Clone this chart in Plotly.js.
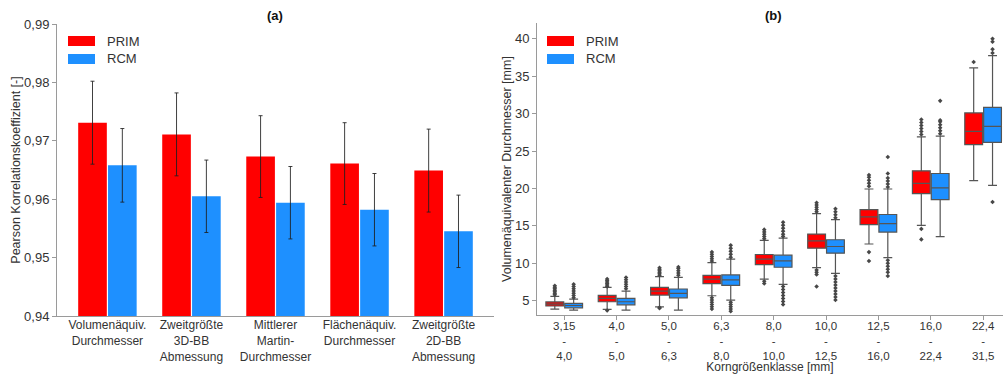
<!DOCTYPE html>
<html>
<head>
<meta charset="utf-8">
<script src="https://cdn.plot.ly/plotly-3.0.1.min.js"></script>
<style>html,body{margin:0;padding:0;background:#fff;}#chart{width:1005px;height:374px;}</style>
</head>
<body>
<div id="chart"></div>
<script>
// ---- Panel (a) data ----
const features = ["Volumenäquiv.<br>Durchmesser", "Zweitgrößte<br>3D-BB<br>Abmessung", "Mittlerer<br>Martin-<br>Durchmesser", "Flächenäquiv.<br>Durchmesser", "Zweitgrößte<br>2D-BB<br>Abmessung"];
const primCorr = [0.9731, 0.9711, 0.9673, 0.9661, 0.9649];
const primErr  = [0.0071, 0.0071, 0.0070, 0.0070, 0.0071];
const rcmCorr  = [0.9658, 0.9605, 0.9594, 0.9582, 0.9545];
const rcmErr   = [0.0063, 0.0062, 0.0062, 0.0062, 0.0062];

// ---- Panel (b) data ----
const classLow  = ["3,15", "4,0", "5,0", "6,3", "8,0", "10,0", "12,5", "16,0", "22,4"];
const classHigh = ["4,0", "5,0", "6,3", "8,0", "10,0", "12,5", "16,0", "22,4", "31,5"];

const primQ1     = [4.30, 4.87, 5.76, 7.28, 9.84, 12.03, 15.16, 19.30, 25.86];
const primMedian = [4.55, 5.31, 6.30, 7.90, 10.55, 13.00, 16.20, 20.68, 27.63];
const primQ3     = [4.85, 5.72, 6.79, 8.40, 11.18, 13.91, 17.17, 22.36, 30.09];
const primLow    = [3.88, 3.84, 4.19, 5.67, 7.90, 9.43, 12.58, 15.07, 21.04];
const primHigh   = [5.60, 6.79, 8.22, 10.10, 13.06, 16.64, 19.93, 26.88, 36.10];
const primOut = [
  [5.8, 6.0, 6.2, 6.4, 6.6, 6.8, 7.0],
  [6.9, 7.1, 7.3, 7.5, 7.7, 7.9, 3.7],
  [8.4, 8.6, 8.8, 9.0, 9.2, 9.4, 4.0, 4.1],
  [10.3, 10.6, 10.9, 11.2, 11.5, 5.4, 5.1, 4.8, 4.5, 4.2, 3.9],
  [13.3, 13.6, 13.9, 14.2, 14.5, 7.6, 7.3],
  [16.9, 17.2, 17.5, 17.8, 18.1, 9.1, 8.8, 8.5, 6.9],
  [20.3, 20.7, 21.1, 21.5, 21.8, 11.5, 10.3],
  [27.2, 27.6, 28.0, 28.4, 28.8, 29.2, 14.6, 13.2],
  [36.9]
];

const rcmQ1     = [4.06, 4.46, 5.40, 7.06, 9.48, 11.36, 14.18, 18.50, 26.16];
const rcmMedian = [4.37, 4.87, 5.99, 7.78, 10.33, 12.25, 15.30, 20.08, 28.30];
const rcmQ3     = [4.64, 5.31, 6.57, 8.45, 11.09, 13.15, 16.52, 22.00, 30.84];
const rcmLow    = [3.75, 3.75, 3.75, 5.09, 7.20, 8.67, 10.75, 13.56, 20.41];
const rcmHigh   = [5.22, 6.30, 8.13, 10.55, 13.37, 15.84, 19.93, 27.00, 37.75];
const rcmOut = [
  [5.4, 5.7, 6.0, 6.3, 6.6, 6.9, 7.2],
  [6.6, 6.9, 7.2, 7.5, 7.8, 8.1],
  [8.4, 8.7, 9.0, 9.3, 9.5],
  [10.8, 11.2, 11.6, 12.0, 12.4, 4.8, 4.5, 4.2, 3.9, 3.6],
  [13.6, 13.9, 14.3, 14.7, 15.1, 15.5, 6.9, 6.5, 6.1, 5.7, 5.3, 4.9, 4.5],
  [16.1, 16.5, 16.9, 17.3, 8.3, 7.9, 7.5, 7.1, 6.7, 6.3, 5.9, 5.5, 5.1],
  [20.2, 20.6, 21.0, 21.4, 22.0, 24.2, 10.4, 10.0, 9.6, 9.2, 8.8, 8.3],
  [27.3, 27.7, 28.1, 28.5, 28.9, 29.1, 31.7],
  [38.1, 38.6, 39.6, 40.0, 18.2]
];

const seriesNames = ["PRIM", "RCM"];
const RED = "#ff0000", BLUE = "#1e90ff";
const TXT = "#333333", AX = "#9a9a9a", BOXLINE = "#555555";
const FONT = "Liberation Sans, Arial, sans-serif";

const idx = classLow.map((_, i) => i);
const OFF = 0.18, BW = 0.34;

function outlierTrace(groups, sign) {
  const xs = [], ys = [];
  groups.forEach((g, i) => g.forEach(v => { xs.push(i + sign * OFF); ys.push(v); }));
  return {type: "scatter", mode: "markers", x: xs, y: ys, xaxis: "x2", yaxis: "y2",
    marker: {symbol: "diamond", size: 3.5, color: "#474747"}, showlegend: false, hoverinfo: "y"};
}

const traces = [
  {type: "bar", name: seriesNames[0], x: features, y: primCorr, marker: {color: RED},
   error_y: {type: "data", array: primErr, visible: true, color: "rgba(30,30,30,0.85)", thickness: 1, width: 2},
   xaxis: "x", yaxis: "y", showlegend: false},
  {type: "bar", name: seriesNames[1], x: features, y: rcmCorr, marker: {color: BLUE},
   error_y: {type: "data", array: rcmErr, visible: true, color: "rgba(30,30,30,0.85)", thickness: 1, width: 2},
   xaxis: "x", yaxis: "y", showlegend: false},
  {type: "box", name: seriesNames[0], x: idx.map(i => i - OFF), q1: primQ1, median: primMedian, q3: primQ3,
   lowerfence: primLow, upperfence: primHigh, width: BW, whiskerwidth: 0.5, boxpoints: false,
   fillcolor: RED, line: {color: BOXLINE, width: 1.2}, xaxis: "x2", yaxis: "y2", showlegend: false},
  {type: "box", name: seriesNames[1], x: idx.map(i => i + OFF), q1: rcmQ1, median: rcmMedian, q3: rcmQ3,
   lowerfence: rcmLow, upperfence: rcmHigh, width: BW, whiskerwidth: 0.5, boxpoints: false,
   fillcolor: BLUE, line: {color: BOXLINE, width: 1.2}, xaxis: "x2", yaxis: "y2", showlegend: false},
  outlierTrace(primOut, -1),
  outlierTrace(rcmOut, 1)
];

const W = 1005, H = 374;
const px = v => v / W, py = v => (H - v) / H;

function legendItems(x0) {
  const shapes = [], ann = [];
  [[RED, 36, seriesNames[0]], [BLUE, 54, seriesNames[1]]].forEach(([c, top, name]) => {
    shapes.push({type: "rect", xref: "paper", yref: "paper", x0: px(x0), x1: px(x0 + 27),
      y0: py(top + 10), y1: py(top), fillcolor: c, line: {width: 0}});
    ann.push({xref: "paper", yref: "paper", x: px(x0 + 37), y: py(top + 5), text: name,
      showarrow: false, xanchor: "left", yanchor: "middle", font: {size: 13, color: TXT, family: FONT}});
  });
  return {shapes, ann};
}
const la = legendItems(68), lb = legendItems(547);

const layout = {
  width: W, height: H,
  margin: {l: 0, r: 0, t: 0, b: 0},
  paper_bgcolor: "#fff", plot_bgcolor: "#fff",
  font: {family: FONT, size: 13, color: TXT},
  separators: ",.",
  barmode: "group", bargap: 0.29, bargroupgap: 0.04,
  boxmode: "overlay",
  showlegend: false,
  xaxis: {domain: [px(57), px(494)], range: [-0.6, 4.6], showline: true, linecolor: AX, linewidth: 1,
    ticks: "", showgrid: false, zeroline: false, tickfont: {size: 12, color: TXT}, ticklabelstandoff: -2, fixedrange: true},
  yaxis: {domain: [py(316), py(24)], range: [0.94, 0.99], dtick: 0.01, tickformat: ".2f",
    showline: true, linecolor: AX, linewidth: 1, ticks: "outside", ticklen: 4, tickcolor: AX,
    showgrid: false, zeroline: false, tickfont: {size: 13, color: TXT},
    title: {text: "Pearson Korrelationskoeffizient [-]", font: {size: 12.5, color: TXT}, standoff: 0}},
  xaxis2: {domain: [px(537), px(1003)], range: [-0.52, 8.38], anchor: "y2",
    tickvals: idx, ticktext: idx.map(i => classLow[i] + "<br>-<br>" + classHigh[i]),
    showline: true, linecolor: AX, linewidth: 1, ticks: "outside", ticklen: 4, tickcolor: AX,
    showgrid: false, zeroline: false, tickfont: {size: 11.5, color: TXT}, ticklabelstandoff: -4,
    title: {text: "Korngrößenklasse [mm]", font: {size: 12, color: TXT}, standoff: 0}},
  yaxis2: {domain: [py(315), py(23)], range: [3.1, 42.1], anchor: "x2", tickvals: [5, 10, 15, 20, 25, 30, 35, 40],
    showline: true, linecolor: AX, linewidth: 1, ticks: "outside", ticklen: 4, tickcolor: AX,
    showgrid: false, zeroline: false, tickfont: {size: 13, color: TXT},
    title: {text: "Volumenäquivalenter Durchmesser [mm]", font: {size: 12.5, color: TXT}, standoff: 0}},
  shapes: la.shapes.concat(lb.shapes),
  annotations: [
    {xref: "paper", yref: "paper", x: px(275), y: py(16), text: "<b>(a)</b>", showarrow: false,
     xanchor: "center", yanchor: "middle", font: {size: 13, color: "#111", family: FONT}},
    {xref: "paper", yref: "paper", x: px(773), y: py(16), text: "<b>(b)</b>", showarrow: false,
     xanchor: "center", yanchor: "middle", font: {size: 13, color: "#111", family: FONT}}
  ].concat(la.ann, lb.ann)
};

Plotly.newPlot("chart", traces, layout, {displayModeBar: false, staticPlot: true});
</script>
</body>
</html>
